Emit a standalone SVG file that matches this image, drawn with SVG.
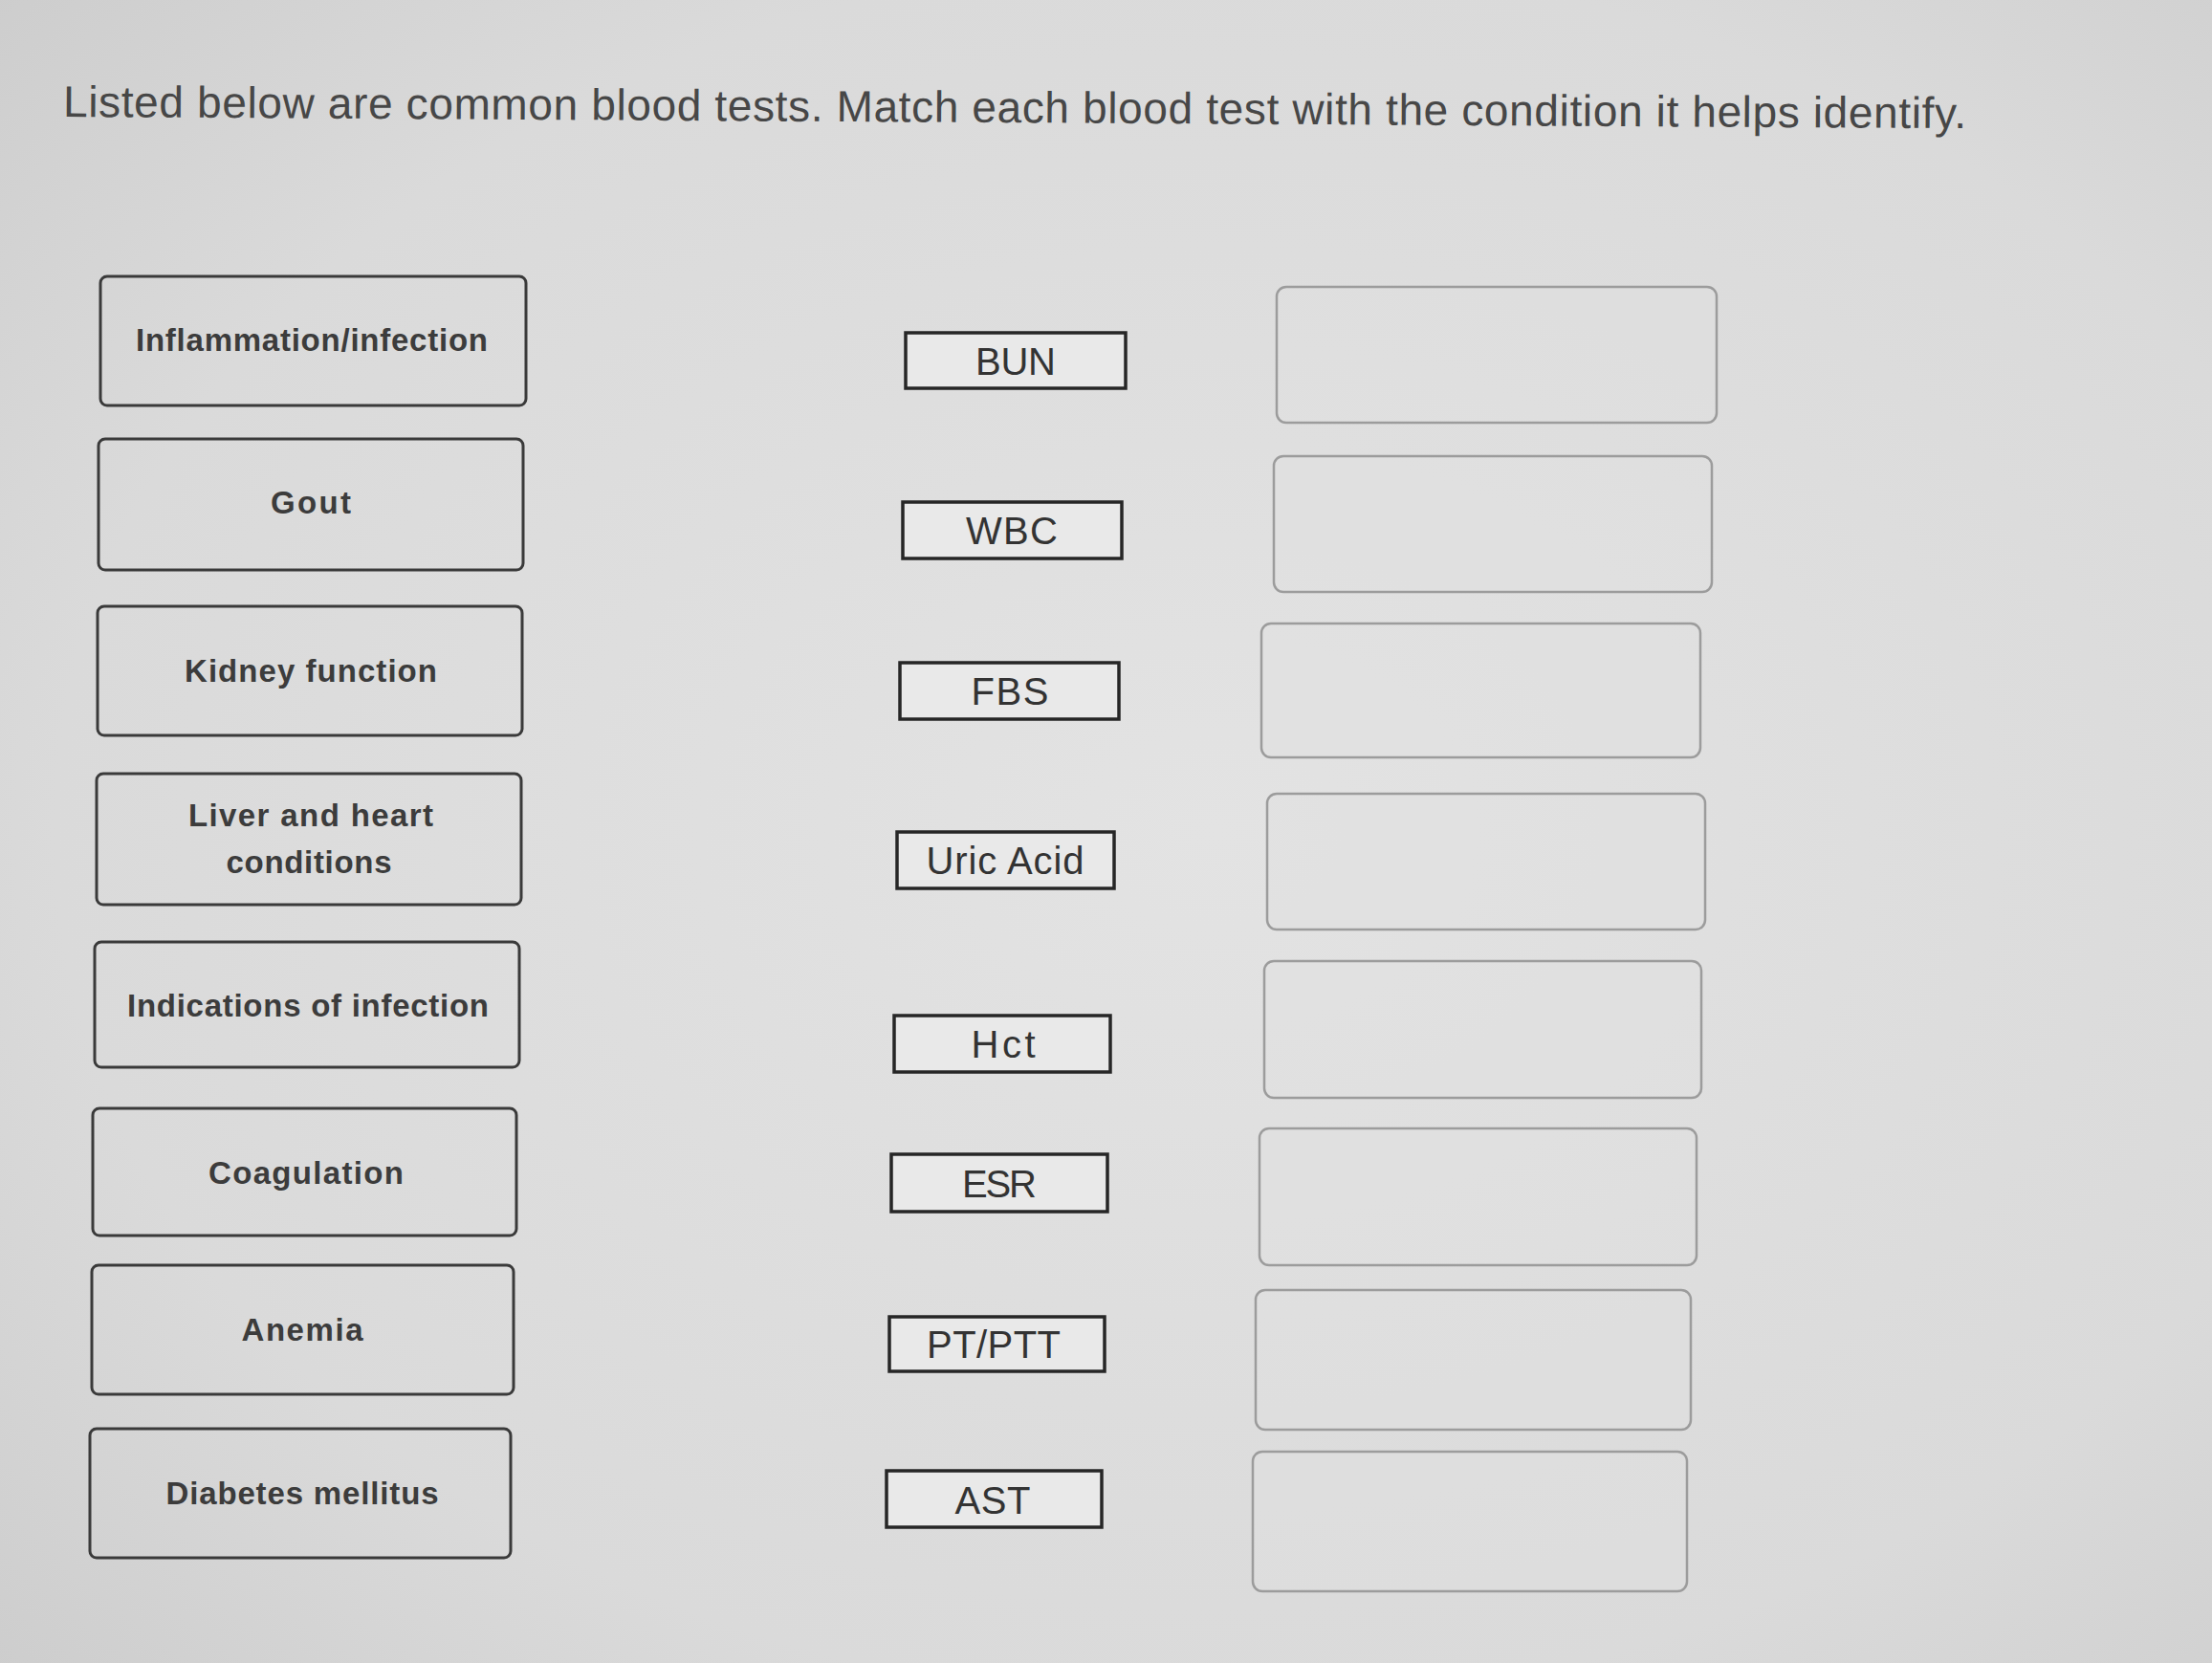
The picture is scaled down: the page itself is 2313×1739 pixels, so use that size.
<svg xmlns="http://www.w3.org/2000/svg" width="2313" height="1739" viewBox="0 0 2313 1739">
<defs>
<radialGradient id="bg" cx="0.55" cy="0.5" r="0.75">
<stop offset="0" stop-color="#e3e3e3"/>
<stop offset="0.7" stop-color="#dadada"/>
<stop offset="1" stop-color="#cdcdcd"/>
</radialGradient>
<style>
.cond rect{fill:none;stroke:#3a3a3a;stroke-width:3}
.cond text{font-family:"Liberation Sans",Arial,sans-serif;font-weight:bold;font-size:33px;fill:#3c3c3c;text-anchor:middle}
.test rect{fill:#e9e9e9;stroke:#262626;stroke-width:3.5}
.test text{font-family:"Liberation Sans",Arial,sans-serif;font-size:40px;fill:#333;text-anchor:middle}
.slot rect{fill:#e2e2e2;fill-opacity:0.4;stroke:#9c9c9c;stroke-width:2.5}
.title{font-family:"Liberation Sans",Arial,sans-serif;font-size:46px;fill:#474747}
</style>
</defs>
<rect width="2313" height="1739" fill="url(#bg)"/>
<text class="title" x="66" y="122" textLength="1990" transform="rotate(0.35 66 122)">Listed below are common blood tests. Match each blood test with the condition it helps identify.</text>

<g id="cond1" class="cond"><rect x="105" y="289" width="445" height="135" rx="7"/><text x="326" y="367" textLength="368">Inflammation/infection</text></g>
<g id="cond2" class="cond"><rect x="103" y="459" width="444" height="137" rx="7"/><text x="325" y="537" textLength="84">Gout</text></g>
<g id="cond3" class="cond"><rect x="102" y="634" width="444" height="135" rx="7"/><text x="325" y="713" textLength="264">Kidney function</text></g>
<g id="cond4" class="cond"><rect x="101" y="809" width="444" height="137" rx="7"/><text x="325" y="864" textLength="256">Liver and heart</text><text x="323" y="913" textLength="173">conditions</text></g>
<g id="cond5" class="cond"><rect x="99" y="985" width="444" height="131" rx="7"/><text x="322" y="1063" textLength="378">Indications of infection</text></g>
<g id="cond6" class="cond"><rect x="97" y="1159" width="443" height="133" rx="7"/><text x="320" y="1238" textLength="204">Coagulation</text></g>
<g id="cond7" class="cond"><rect x="96" y="1323" width="441" height="135" rx="7"/><text x="316" y="1402" textLength="127">Anemia</text></g>
<g id="cond8" class="cond"><rect x="94" y="1494" width="440" height="135" rx="7"/><text x="316" y="1573" textLength="285">Diabetes mellitus</text></g>

<g id="test1" class="test"><rect x="947" y="348" width="230" height="58"/><text x="1062" y="392" textLength="84">BUN</text></g>
<g id="test2" class="test"><rect x="944" y="525" width="229" height="59"/><text x="1058" y="569" textLength="96">WBC</text></g>
<g id="test3" class="test"><rect x="941" y="693" width="229" height="59"/><text x="1056" y="737" textLength="81">FBS</text></g>
<g id="test4" class="test"><rect x="938" y="870" width="227" height="59"/><text x="1051" y="914" textLength="165">Uric Acid</text></g>
<g id="test5" class="test"><rect x="935" y="1062" width="226" height="59"/><text x="1049" y="1106" textLength="67">Hct</text></g>
<g id="test6" class="test"><rect x="932" y="1207" width="226" height="60"/><text x="1045" y="1252" textLength="78">ESR</text></g>
<g id="test7" class="test"><rect x="930" y="1377" width="225" height="57"/><text x="1039" y="1420" textLength="140">PT/PTT</text></g>
<g id="test8" class="test"><rect x="927" y="1538" width="225" height="59"/><text x="1038" y="1583" textLength="79">AST</text></g>

<g id="slot1" class="slot"><rect x="1335" y="300" width="460" height="142" rx="10"/></g>
<g id="slot2" class="slot"><rect x="1332" y="477" width="458" height="142" rx="10"/></g>
<g id="slot3" class="slot"><rect x="1319" y="652" width="459" height="140" rx="10"/></g>
<g id="slot4" class="slot"><rect x="1325" y="830" width="458" height="142" rx="10"/></g>
<g id="slot5" class="slot"><rect x="1322" y="1005" width="457" height="143" rx="10"/></g>
<g id="slot6" class="slot"><rect x="1317" y="1180" width="457" height="143" rx="10"/></g>
<g id="slot7" class="slot"><rect x="1313" y="1349" width="455" height="146" rx="10"/></g>
<g id="slot8" class="slot"><rect x="1310" y="1518" width="454" height="146" rx="10"/></g>
</svg>
